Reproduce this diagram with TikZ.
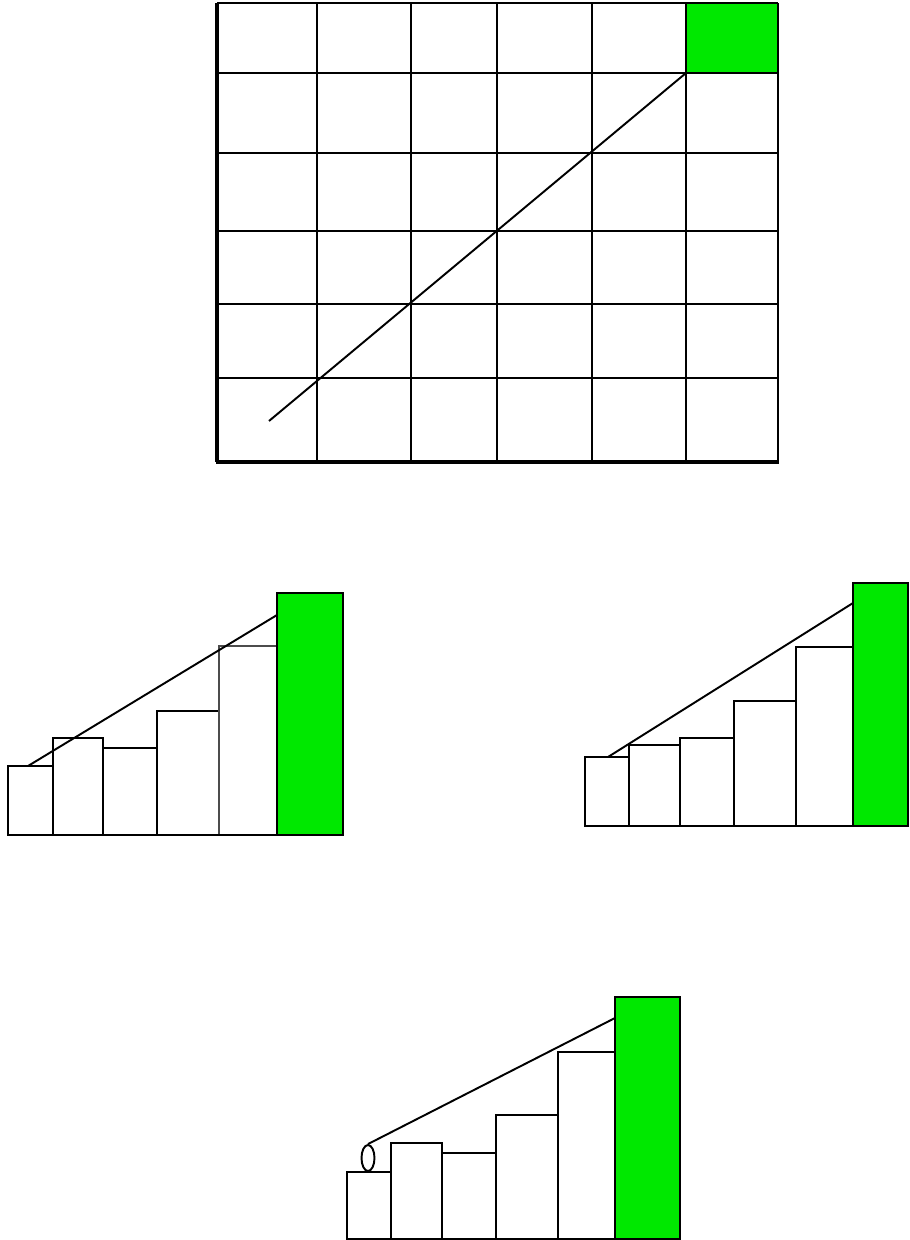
\documentclass[tikz,border=0pt]{standalone}
\usetikzlibrary{shapes.geometric}
\definecolor{bargreen}{RGB}{0,232,0}
\begin{document}
\begin{tikzpicture}[x=0.02cm,y=-0.02cm, line join=miter,
  gridline/.style={line width=1.4pt},
  frameline/.style={line width=2pt},
  barbox/.style={draw=black,line width=1.4pt,fill=white},
  greenbox/.style={draw=black,line width=1.5pt,fill=bargreen},
  sightline/.style={line width=1.1pt}]
\useasboundingbox (0,0) rectangle (909,1240);

% ---------- top grid ----------
\fill[bargreen] (686,3) rectangle (778,73);
\foreach \y in {3,73,153,231,304,378}
  \draw[gridline] (217,\y) -- (778,\y);
\foreach \x in {317,411,497,592,686}
  \draw[gridline] (\x,3) -- (\x,462);
\draw[frameline] (217,3) -- (217,462);
\draw[gridline] (778,3) -- (778,462);
\draw[frameline] (216,462) -- (779,462);
\coordinate (gs) at (269,421);
\coordinate (ge) at (686,73);
\draw[sightline] (gs) -- (ge);

% ---------- middle-left chart ----------
\draw[barbox] (8,835) rectangle (53,766);
\draw[barbox] (53,835) rectangle (103,738);
\draw[barbox] (103,835) rectangle (157,748);
\draw[barbox] (157,835) rectangle (219,711);
\draw[barbox,draw=black!70] (219,835) rectangle (277,646);
\draw[greenbox] (277,835) rectangle (343,593);
\draw[gridline] (8,835) -- (343,835);
\coordinate (ls) at (28,766);
\coordinate (le) at (277,615);
\draw[sightline] (ls) -- (le);

% ---------- middle-right chart ----------
\draw[barbox] (585,826) rectangle (629,757);
\draw[barbox] (629,826) rectangle (680,745);
\draw[barbox] (680,826) rectangle (734,738);
\draw[barbox] (734,826) rectangle (796,701);
\draw[barbox] (796,826) rectangle (853,647);
\draw[greenbox] (853,826) rectangle (908,583);
\draw[gridline] (585,826) -- (908,826);
\coordinate (rs) at (608,757);
\coordinate (re) at (853,603);
\draw[sightline] (rs) -- (re);

% ---------- bottom chart ----------
\draw[barbox] (347,1239) rectangle (391,1172);
\draw[barbox] (391,1239) rectangle (442,1143);
\draw[barbox] (442,1239) rectangle (496,1153);
\draw[barbox] (496,1239) rectangle (558,1115);
\draw[barbox] (558,1239) rectangle (615,1052);
\draw[greenbox] (615,1239) rectangle (680,997);
\node[draw,ellipse,line width=1.1pt,minimum width=0.26cm,minimum height=0.52cm,inner sep=0pt] (eye) at (368,1158) {};
\coordinate (be) at (615,1018);
\draw[sightline] (eye.north) -- (be);

\end{tikzpicture}
\end{document}
